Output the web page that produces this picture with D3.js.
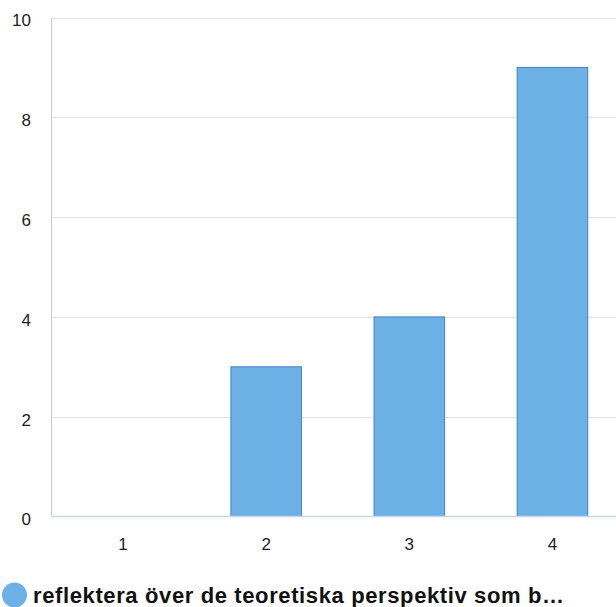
<!DOCTYPE html>
<html><head><meta charset="utf-8">
<script src="https://cdn.jsdelivr.net/npm/d3@7"></script>
<style>html,body{margin:0;padding:0;background:#fff;overflow:hidden}</style>
</head><body>
<svg id="c" width="616" height="607"></svg>
<script>
const categories = ["1","2","3","4"];
const values = [0,3,4,9];
const yTicks = [0,2,4,6,8,10];
const legendLabel = "reflektera över de teoretiska perspektiv som b…";

const svg = d3.select("#c");
const m = {left:51.5, top:17.5, right:624, bottom:516.5};
const x = d3.scaleBand().domain(categories).range([m.left, m.right]).paddingInner(0.5).paddingOuter(0.25);
const y = d3.scaleLinear().domain([0,10]).range([m.bottom, m.top]);

// gridlines
svg.append("g").selectAll("line").data(yTicks.filter(d=>d>0)).join("line")
  .attr("x1", m.left).attr("x2", m.right)
  .attr("y1", d=>Math.round(y(d))+0.5).attr("y2", d=>Math.round(y(d))+0.5)
  .attr("stroke", "#e3e3e3").attr("stroke-width", 1);

// left axis line
svg.append("line").attr("x1", m.left).attr("x2", m.left).attr("y1", y(10)).attr("y2", y(0))
  .attr("stroke", "#cccccc");

// bars
svg.append("g").selectAll("rect").data(values).join("rect")
  .attr("x", (d,i)=>x(categories[i])+0.5)
  .attr("width", x.bandwidth()-1)
  .attr("y", d=>y(d))
  .attr("height", d=>y(0)-y(d))
  .attr("fill", "#6bb1e5")
  .attr("stroke", "#4483c2").attr("stroke-width", 1);

// baseline
svg.append("line").attr("x1", m.left).attr("x2", m.right).attr("y1", y(0)).attr("y2", y(0))
  .attr("stroke", "#c9d5ea").attr("stroke-width", 1.5);

// y labels
const yAxis = d3.axisLeft(y).tickValues(yTicks).tickSize(0).tickPadding(0);
const ya = svg.append("g").attr("transform", "translate(31,2.5)").call(yAxis);
ya.select(".domain").remove();
ya.selectAll("text").attr("font-family","Liberation Sans, Arial, sans-serif").attr("font-size",17).attr("fill","#222").attr("dy","0.35em");

// x labels
const xAxis = d3.axisBottom(x).tickSize(0).tickPadding(0);
const xa = svg.append("g").attr("transform", "translate(0,538)").call(xAxis);
xa.select(".domain").remove();
xa.selectAll("text").attr("font-family","Liberation Sans, Arial, sans-serif").attr("font-size",17).attr("fill","#222").attr("dy","0.71em");

// legend
svg.append("circle").attr("cx", 14.5).attr("cy", 595).attr("r", 12.5).attr("fill", "#6bb1e5");
svg.append("text").attr("x", 33).attr("y", 603).attr("font-family","Liberation Sans, Arial, sans-serif")
  .attr("font-weight","bold").attr("font-size",22).attr("fill","#111")
  .attr("textLength", 531).attr("lengthAdjust","spacing").text(legendLabel);
</script>
</body></html>
